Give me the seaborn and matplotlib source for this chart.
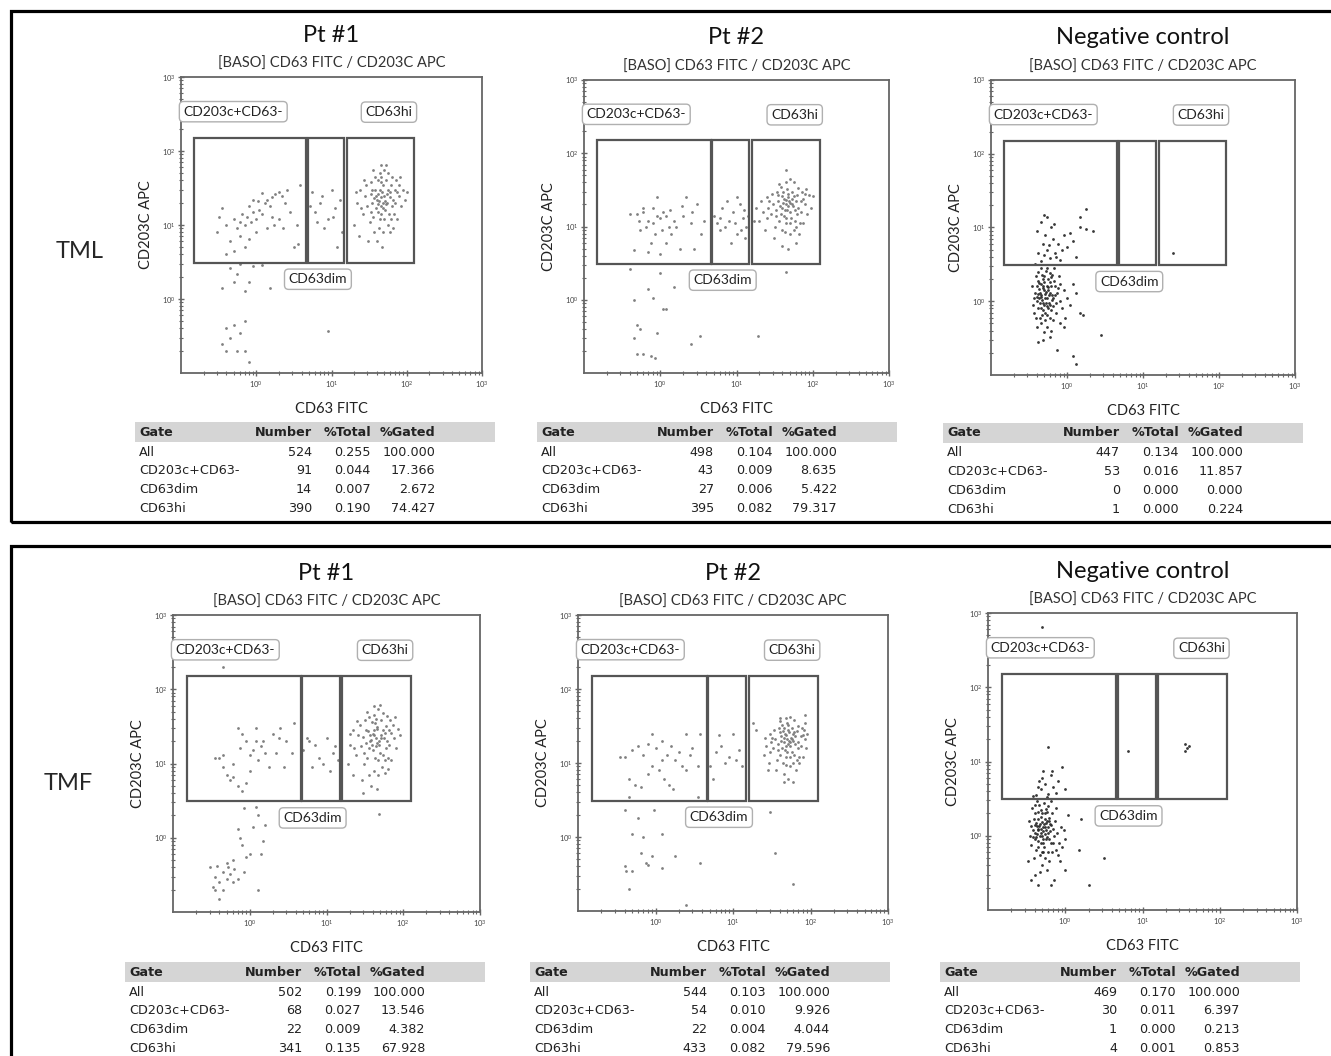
import matplotlib
matplotlib.use("Agg")
import matplotlib.pyplot as plt
import seaborn as sns
import pandas as pd
from matplotlib.patches import Rectangle
from matplotlib.ticker import FixedLocator, LogLocator, LogFormatterMathtext, NullFormatter

# ---------------- DATA ----------------
row_labels = ["TML", "TMF"]
col_titles = ["Pt #1", "Pt #2", "Negative control"]
subtitle = "[BASO] CD63 FITC / CD203C APC"
x_label = "CD63 FITC"
y_label = "CD203C APC"
gate_names = ["All", "CD203c+CD63-", "CD63dim", "CD63hi"]
table_header = ["Gate", "Number", "%Total", "%Gated"]

# gate definitions (CD63 FITC ranges, CD203C APC range)
gate_x_ranges = [(0.15, 4.6), (4.8, 14.8), (16.0, 125.0)]
gate_y_range = (3.1, 150.0)

# gate statistics per panel
tml_pt1_number = [524, 91, 14, 390]
tml_pt1_total = [0.255, 0.044, 0.007, 0.190]
tml_pt1_gated = [100.000, 17.366, 2.672, 74.427]
tml_pt2_number = [498, 43, 27, 395]
tml_pt2_total = [0.104, 0.009, 0.006, 0.082]
tml_pt2_gated = [100.000, 8.635, 5.422, 79.317]
tml_neg_number = [447, 53, 0, 1]
tml_neg_total = [0.134, 0.016, 0.000, 0.000]
tml_neg_gated = [100.000, 11.857, 0.000, 0.224]
tmf_pt1_number = [502, 68, 22, 341]
tmf_pt1_total = [0.199, 0.027, 0.009, 0.135]
tmf_pt1_gated = [100.000, 13.546, 4.382, 67.928]
tmf_pt2_number = [544, 54, 22, 433]
tmf_pt2_total = [0.103, 0.010, 0.004, 0.082]
tmf_pt2_gated = [100.000, 9.926, 4.044, 79.596]
tmf_neg_number = [469, 30, 1, 4]
tmf_neg_total = [0.170, 0.011, 0.000, 0.001]
tmf_neg_gated = [100.000, 6.397, 0.213, 0.853]

# events (CD63 FITC, CD203C APC)
tml_pt1_events = [
    (40,22),(45,18),(50,25),(38,30),(55,20),(42,15),(48,35),(35,20),(60,28),(44,12),(52,16),(47,28),(39,17),(58,14),
    (65,22),(33,26),(36,13),(62,35),(46,45),(41,40),(53,40),(30,18),(28,25),(70,20),(75,28),(68,14),(56,10),(43,9),
    (37,8),(49,8),(32,11),(26,14),(24,30),(29,35),(34,38),(57,50),(50,55),(45,65),(72,40),(80,25),(85,18),(90,30),
    (95,22),(22,20),(20,10),(23,7),(31,6),(40,6),(47,5),(60,8),(66,9),(74,12),(78,35),(44,30),(51,21),(46,24),(42,26),
    (54,26),(39,25),(48,20),(57,30),(35,30),(63,18),(41,19),(50,12),(44,50),(38,45),(27,40),(36,55),(53,65),(64,45),
    (82,45),(100,28),(21,28),(25,17),(33,15),(59,24),(61,12),(70,30),(45,38),(43,21),(49,17),(37,23),(53,19),(46,14),
    (0.3,8),(0.32,13),(0.4,10),(0.45,6),(0.5,12),(0.55,9),(0.6,7),(0.65,14),(0.7,10),(0.75,13),(0.8,6.5),(0.85,11),
    (0.9,15),(1.0,12),(1.1,16),(1.2,14),(1.3,20),(1.4,22),(1.5,18),(1.6,24),(1.8,26),(2.0,28),(2.2,25),(2.4,20),
    (2.6,30),(2.0,12),(1.7,10),(1.4,9),(1.0,8),(0.7,5),(0.5,4.5),(0.4,4),(2.8,15),(3.5,10),(3.8,35),(3.2,5),(3.6,5.5),
    (1.2,27),(0.9,22),(0.8,18),(0.6,11),(1.6,13),(2.3,9),(0.35,17),(1.05,21),
    (5.5,28),(6,15),(7,20),(8,9),(9,12),(10,30),(11,17),(12,5),(13,22),(6.5,11),(7.5,25),(14,8),(10.5,13),(5.2,18),
    (0.35,1.4),(0.5,1.7),(0.55,2.2),(0.6,3),(0.7,1.3),(0.8,1.7),(1.5,1.4),(0.45,2.6),(0.4,0.4),(0.5,0.45),(0.6,0.35),
    (0.7,0.5),(0.35,0.25),(0.4,0.2),(0.55,0.2),(0.7,0.2),(0.8,0.14),(0.45,0.3),(9,0.37),(0.9,2.8),(1.2,2.9),
]
tml_pt2_events = [
    (40,18),(45,20),(50,16),(35,22),(55,19),(42,14),(48,25),(38,15),(60,22),(44,11),(52,13),(47,28),(37,19),(58,12),
    (65,18),(33,17),(36,12),(62,27),(46,33),(41,30),(53,30),(30,20),(28,15),(70,16),(75,24),(68,11),(56,9),(43,8.5),
    (39,9),(50,8),(32,10),(26,18),(25,25),(29,28),(34,30),(57,40),(50,45),(45,60),(72,30),(80,20),(85,15),(90,27),
    (95,18),(22,16),(20,12),(24,9),(31,7),(40,5.5),(47,5),(60,6),(66,8),(74,11),(78,28),(44,23),(51,21),(46,17),
    (42,24),(54,24),(39,26),(48,19),(57,26),(35,27),(63,15),(41,21),(50,11),(44,40),(38,35),(27,22),(36,38),(53,20),
    (64,34),(82,33),(100,26),(21,22),(25,13),(33,14),(59,17),(61,10),(70,22),(45,13),(18,18),(17,12),(49,22),(43,17),
    (0.5,15),(0.6,16),(0.7,12),(0.8,18),(0.9,25),(1.0,13),(1.2,14),(1.3,10),(1.5,12),(2.0,14),(2.2,25),(3.0,20),
    (0.55,9),(0.65,10),(0.85,8),(0.75,6),(0.7,4.5),(1.0,4.2),(1.8,5),(2.8,5),(3.4,8),(0.45,4.8),(1.1,16),(1.6,10),
    (2.5,11),(0.9,14),(1.4,8),(0.6,18),(1.9,19),(1.2,6),(0.8,11),(1.05,9),(2.6,16),(3.8,12),(0.4,15),(0.52,12),
    (1.35,17),
    (5,14),(6,9),(7,10),(8,12),(9,16),(10,8),(11,20),(12,13),(13,7),(6.5,18),(8.5,6),(14,14),(5.5,11),(7.5,22),
    (9.5,11),(11.5,9),(12.5,17),(6,13),(10,25),(13.5,10),
    (0.4,2.6),(0.45,1.0),(0.5,0.45),(0.55,0.4),(0.45,0.3),(0.5,0.18),(0.6,0.18),(0.7,1.4),(0.8,1.05),(0.9,0.35),
    (0.75,0.17),(0.85,0.16),(1.1,0.75),(1.2,0.75),(1.5,1.5),(2.5,0.25),(3.3,0.32),(1.0,2.3),(19,0.32),(45,2.4),
]
tml_neg_events = [
    (0.4,1.0),(0.45,1.2),(0.5,0.9),(0.55,1.1),(0.6,1.3),(0.42,0.8),(0.48,1.5),(0.52,0.7),(0.58,0.95),(0.62,1.6),
    (0.38,1.3),(0.44,0.6),(0.5,1.8),(0.56,2.0),(0.65,0.85),(0.7,1.2),(0.47,2.3),(0.53,2.6),(0.41,1.9),(0.36,0.9),
    (0.6,0.6),(0.67,1.9),(0.72,0.7),(0.46,0.5),(0.55,0.45),(0.4,0.45),(0.5,0.38),(0.62,0.4),(0.75,1.5),(0.8,1.0),
    (0.85,0.8),(0.9,1.4),(0.78,2.2),(0.68,2.8),(0.45,2.8),(0.39,2.2),(0.35,1.6),(0.57,1.4),(0.43,1.1),(0.51,1.25),
    (0.63,1.05),(0.49,0.75),(0.54,1.6),(0.59,2.4),(0.46,1.7),(0.44,0.95),(0.52,0.55),(0.66,0.55),(0.71,0.95),
    (0.37,0.7),(0.95,0.6),(1.0,1.1),(1.1,0.9),(1.2,1.7),(1.5,0.7),(1.3,1.3),(0.8,0.5),(0.9,0.45),(0.48,0.3),
    (0.42,0.28),(0.6,0.33),(0.74,0.22),(1.2,0.18),(1.3,0.14),(2.8,0.35),(1.6,0.65),(0.47,1.05),(0.53,1.35),
    (0.41,1.25),(0.57,0.8),(0.64,1.2),(0.49,2.0),(0.43,1.45),(0.55,0.65),(0.61,2.1),(0.39,0.6),
    (0.46,1.15),(0.5,1.4),(0.54,0.85),(0.44,1.3),(0.58,1.2),(0.48,0.95),(0.52,1.1),(0.4,1.6),(0.61,0.75),
    (0.45,0.8),(0.56,1.55),(0.42,2.5),(0.5,2.2),(0.64,2.3),(0.7,1.6),(0.37,1.1),(0.47,0.65),(0.53,0.95),
    (0.59,1.8),(0.43,1.75),(0.66,1.1),(0.55,2.8),(0.4,1.15),(0.49,1.6),(0.6,0.9),(0.73,1.3),(0.82,1.7),
    (0.45,3.5),(0.5,4.2),(0.55,5),(0.6,3.8),(0.48,6),(0.65,7),(0.7,4.5),(0.42,4.5),(0.52,8),(0.58,5.8),(0.75,6),
    (0.8,3.6),(0.62,10),(0.45,12),(0.55,14),(0.68,11),(0.9,8),(1.0,5.5),(1.1,8.5),(1.5,10),(1.8,9.5),(2.2,9),
    (1.5,14),(1.8,18),(1.2,6.5),(0.4,9),(0.5,15),(0.72,4),(0.38,3.2),(0.85,5),(1.3,4),
    (25,4.5),
]
tmf_pt1_events = [
    (38,21),(42,24),(48,18),(35,27),(52,22),(40,15),(45,31),(33,19),(57,26),(43,12),(50,14),(46,29),(36,16),(55,13),
    (62,20),(30,23),(34,12),(60,32),(44,40),(39,36),(51,38),(28,17),(26,24),(66,18),(70,26),(64,12),(53,9),(41,8),
    (36,7),(47,7),(31,10),(24,13),(22,28),(27,33),(32,38),(54,48),(47,55),(42,60),(68,38),(76,22),(80,16),(86,29),
    (20,18),(19,10),(22,7),(29,6),(38,5),(45,4.5),(57,7.5),(63,8.5),(70,11),(74,33),(41,28),(49,20),(44,22),(40,25),
    (51,24),(37,24),(46,19),(54,28),(33,28),(60,16),(39,18),(47,11),(42,45),(36,42),(25,37),(34,50),(50,62),(61,44),
    (78,42),(90,24),(20,25),(23,16),(31,14),(56,22),(58,11),(66,28),(43,35),(30,4),(48,2.1),(44,17),(37,20),
    (0.35,12),(0.4,12),(0.45,9),(0.5,7),(0.55,6),(0.6,6.5),(0.7,5),(0.8,4.2),(0.9,5.5),(1.0,13),(1.1,15),(1.2,20),
    (0.9,20),(0.8,25),(0.7,30),(1.5,20),(2.0,25),(2.5,30),(3.0,20),(3.5,14),(2.2,14),(1.6,14),(1.3,11),(1.8,9),
    (0.6,10),(0.45,13),(1.0,8),(2.8,9),(3.8,35),(1.2,30),(0.75,16),(1.4,17),(2.4,22),
    (5,15),(6,20),(7,18),(8,12),(9,10),(10,22),(12,14),(6.5,9),(11,8),(13,17),(5.5,22),(14,11),
    (0.85,2.5),(1.2,2.6),(1.3,2.0),(1.1,1.4),(0.7,1.3),(0.75,1.0),(0.8,0.8),(0.9,0.55),(1.0,0.6),(0.6,0.5),
    (0.5,0.45),(0.45,0.35),(0.35,0.3),(0.3,0.4),(0.4,0.25),(0.5,0.28),(0.55,0.32),(0.45,0.2),(0.35,0.2),(0.6,0.25),
    (0.7,0.28),(0.85,0.35),(1.3,0.2),(0.4,0.15),(0.33,0.22),(0.38,0.42),(0.52,0.4),(0.62,0.38),(1.4,0.6),(1.6,1.5),
    (1.5,0.9),(0.45,200),
]
tmf_pt2_events = [
    (46,19),(50,21),(55,17),(42,23),(60,20),(47,15),(53,26),(43,16),(64,23),(49,12),(57,14),(52,28),(42,20),(62,13),
    (70,19),(38,18),(41,13),(67,27),(51,33),(46,30),(58,30),(35,21),(33,16),(75,17),(80,24),(72,12),(60,10),(48,9.5),
    (44,10),(55,9),(37,11),(31,19),(30,25),(34,28),(39,30),(62,38),(55,42),(50,35),(77,30),(85,21),(88,16),(40,37),
    (27,17),(25,13),(29,10),(36,8),(45,7),(52,6),(65,8),(71,10),(79,12),(83,28),(49,24),(56,22),(51,18),(47,25),
    (59,25),(44,27),(53,20),(62,26),(40,26),(68,16),(46,22),(55,12),(48,40),(43,33),(32,22),(41,40),(58,21),(69,32),
    (86,35),(90,25),(26,22),(30,14),(38,15),(64,18),(66,11),(75,23),(50,14),(45,5.5),(20,28),(18,35),(28,8),(60,5.5),
    (85,45),(48,17),(54,19),
    (0.35,12),(0.4,12),(0.5,15),(0.6,17),(0.7,13),(0.8,18),(0.9,25),(1.0,16),(1.2,20),(1.4,13),(1.6,17),(1.8,11),
    (2.0,14),(2.5,25),(3.0,16),(3.8,25),(0.45,6),(0.55,5),(0.65,4.8),(0.8,7),(1.1,8),(1.3,6),(1.5,5),(1.7,4.5),
    (2.2,9),(2.5,8),(0.9,9),(1.2,11),(2.8,13),(3.5,9),
    (5,9),(5.5,6),(6,14),(7,17),(8,10),(9,12),(10,25),(12,15),(13,9),(6.5,24),(11,11),
    (0.4,2.3),(0.45,3.5),(0.5,1.1),(0.6,1.8),(0.7,1.0),(0.65,0.6),(0.75,0.45),(0.8,0.42),(0.9,0.55),(1.2,1.1),
    (1.8,0.55),(1.2,0.38),(0.4,0.4),(0.42,0.35),(0.5,0.35),(0.45,0.2),(2.5,0.12),(3.8,0.45),(35,0.6),(60,0.23),
    (30,2.2),(0.95,2.3),(3.5,3.5),
]
tmf_neg_events = [
    (0.45,1.2),(0.5,1.0),(0.42,1.5),(0.55,1.3),(0.6,1.1),(0.4,0.9),(0.48,1.8),(0.52,0.8),(0.58,1.6),(0.38,1.2),
    (0.44,0.7),(0.5,2.0),(0.56,2.3),(0.62,0.9),(0.66,1.4),(0.46,2.6),(0.53,2.8),(0.4,2.0),(0.35,1.0),(0.6,0.6),
    (0.68,2.0),(0.7,0.8),(0.47,0.55),(0.54,0.5),(0.39,0.5),(0.5,0.4),(0.62,0.45),(0.74,1.6),(0.78,1.1),(0.82,0.8),
    (0.88,1.3),(0.77,2.4),(0.65,2.9),(0.43,2.9),(0.37,2.4),(0.34,1.6),(0.57,1.5),(0.43,1.05),(0.51,1.3),(0.63,1.15),
    (0.48,0.8),(0.55,1.7),(0.6,2.5),(0.45,1.7),(0.42,0.95),(0.52,0.6),(0.67,0.6),(0.72,1.0),(0.36,0.75),(0.92,0.7),
    (0.95,1.2),(1.0,0.9),(0.8,0.55),(0.85,0.45),(0.47,0.33),(0.41,0.3),(0.58,0.35),(0.72,0.25),(0.36,0.25),
    (0.45,0.22),(0.65,0.22),(1.0,0.35),(1.1,1.9),(0.33,0.45),(0.4,1.4),(0.49,1.1),(0.58,0.95),(0.53,1.45),
    (0.46,1.35),(0.61,1.75),(0.44,1.25),(0.51,0.9),(0.57,1.2),(0.39,1.7),(0.64,1.45),(0.48,2.2),
    (0.47,1.0),(0.52,1.15),(0.43,1.35),(0.56,0.9),(0.5,1.55),(0.41,1.1),(0.59,1.3),(0.45,0.85),(0.54,2.0),
    (0.38,0.95),(0.62,1.6),(0.49,1.25),(0.55,1.05),(0.44,2.1),(0.7,1.25),(0.36,1.35),(0.47,1.45),(0.53,0.7),
    (0.66,0.8),(0.42,0.65),(0.58,2.1),(0.5,0.6),(0.75,0.65),(0.4,2.6),
    (0.42,3.5),(0.48,4.2),(0.55,5),(0.6,3.7),(0.5,6),(0.65,6.5),(0.7,4.5),(0.44,4.5),(0.58,3.3),(0.75,3.8),
    (0.8,5.5),(0.9,8.5),(0.6,15.5),(0.52,7.5),(0.38,3.4),(1.0,4.2),(0.68,7.5),(0.46,5.5),
    (6.5,14),(35,17),(38,15),(36,14),(40,16),
    (3.2,0.5),(2.0,0.22),(1.5,0.65),(1.6,1.7),(0.5,650),
]

# ---------------- LAYOUT HELPERS ----------------
W, H = 1331, 1056
DPI = 100


def fx(px):
    return px / W


def fy(py):
    return 1 - py / H


rows = []
panels = [
    ("TML", "Pt #1", tml_pt1_events, tml_pt1_number, tml_pt1_total, tml_pt1_gated),
    ("TML", "Pt #2", tml_pt2_events, tml_pt2_number, tml_pt2_total, tml_pt2_gated),
    ("TML", "Negative control", tml_neg_events, tml_neg_number, tml_neg_total, tml_neg_gated),
    ("TMF", "Pt #1", tmf_pt1_events, tmf_pt1_number, tmf_pt1_total, tmf_pt1_gated),
    ("TMF", "Pt #2", tmf_pt2_events, tmf_pt2_number, tmf_pt2_total, tmf_pt2_gated),
    ("TMF", "Negative control", tmf_neg_events, tmf_neg_number, tmf_neg_total, tmf_neg_gated),
]
for grp, title, ev, *_ in panels:
    for (xv, yv) in ev:
        rows.append({"group": grp, "sample": title, "CD63 FITC": xv, "CD203C APC": yv})
events_df = pd.DataFrame(rows)

# axes boxes in pixels (left, top, right, bottom)
axes_px = [
    (181, 77, 482, 373), (584, 80, 889, 373), (991, 80, 1295, 375),
    (173, 615, 480, 912), (578, 615, 888, 911), (988, 613, 1297, 910),
]
# table band left edge / band top in pixels
table_px = [
    (135, 422), (537, 422), (943, 423),
    (125, 962), (530, 962), (940, 962),
]

sns.set_style("white")
plt.rcParams['font.family'] = ['Lato', 'DejaVu Sans']

fig = plt.figure(figsize=(W / DPI, H / DPI), dpi=DPI)

# outer frames
fig.add_artist(Rectangle((fx(11), fy(522)), fx(1345 - 11), (522 - 11) / H, transform=fig.transFigure,
                         fill=False, ec="black", lw=2.3, clip_on=False))
fig.add_artist(Rectangle((fx(11), fy(1070)), fx(1345 - 11), (1070 - 546) / H, transform=fig.transFigure,
                         fill=False, ec="black", lw=2.3, clip_on=False))

fig.text(fx(80), fy(252), row_labels[0], fontsize=17, ha="center", va="center")
fig.text(fx(68), fy(783), row_labels[1], fontsize=17, ha="center", va="center")

for i, (grp, title, ev, num, tot, gated) in enumerate(panels):
    l, t, r, b = axes_px[i]
    ax = fig.add_axes([fx(l), fy(b), (r - l) / W, (b - t) / H])
    sub = events_df[(events_df["group"] == grp) & (events_df["sample"] == title)]
    is_neg = title == "Negative control"
    sns.scatterplot(data=sub, x="CD63 FITC", y="CD203C APC", ax=ax, s=4,
                    color="#222222" if is_neg else "#808080", linewidth=0, alpha=0.9 if is_neg else 1.0,
                    legend=False)
    ax.set_xscale("log")
    ax.set_yscale("log")
    ax.set_xlim(0.1, 1000)
    ax.set_ylim(0.1, 1000)
    for sp in ax.spines.values():
        sp.set_color("#666666")
        sp.set_linewidth(1.3)
    ax.xaxis.set_major_locator(FixedLocator([1, 10, 100, 1000]))
    ax.yaxis.set_major_locator(FixedLocator([1, 10, 100, 1000]))
    ax.xaxis.set_major_formatter(LogFormatterMathtext())
    ax.yaxis.set_major_formatter(LogFormatterMathtext())
    ax.xaxis.set_minor_locator(LogLocator(base=10, subs=range(2, 10), numticks=20))
    ax.yaxis.set_minor_locator(LogLocator(base=10, subs=range(2, 10), numticks=20))
    ax.xaxis.set_minor_formatter(NullFormatter())
    ax.yaxis.set_minor_formatter(NullFormatter())
    ax.tick_params(which="both", direction="inout", color="#666666", labelsize=5.5,
                   labelcolor="#444444", bottom=True, left=True, top=False, right=False, pad=1.5)
    ax.tick_params(which="major", length=5, width=1)
    ax.tick_params(which="minor", length=3, width=0.8)

    # gates
    y0, y1 = gate_y_range
    for (x0, x1) in gate_x_ranges:
        ax.add_patch(Rectangle((x0, y0), x1 - x0, y1 - y0, fill=False, ec="#555555", lw=1.6, zorder=3))
    bbox = dict(boxstyle="round,pad=0.3,rounding_size=0.3", fc="white", ec="#b0b0b0", lw=1.0)
    ax.text(0.108, 340, gate_names[1], fontsize=10, ha="left", va="center", bbox=bbox, zorder=4, color="#222")
    ax.text(58, 335, gate_names[3], fontsize=10, ha="center", va="center", bbox=bbox, zorder=4, color="#222")
    ax.text(6.6, 1.85, gate_names[2], fontsize=10, ha="center", va="center", bbox=bbox, zorder=4, color="#222")

    ax.set_xlabel(x_label, fontsize=10.5, color="#222")
    ax.set_ylabel(y_label, fontsize=10.5, color="#222")
    hpx = b - t
    wpx = r - l
    ax.xaxis.set_label_coords(0.5, -29 / hpx)
    ax.yaxis.set_label_coords(-28 / wpx, 0.5)
    ax.text(0.5, 1 + 13 / hpx, subtitle, transform=ax.transAxes, fontsize=10.5, ha="center", va="center",
            color="#333")
    ax.text(0.5, 1 + 42 / hpx, title, transform=ax.transAxes, fontsize=17, ha="center", va="center",
            color="#111")

    # statistics table
    bl, bt = table_px[i]
    fig.add_artist(Rectangle((fx(bl), fy(bt + 20)), 360 / W, 20 / H, transform=fig.transFigure,
                             fc="#d5d5d5", ec="none"))
    tfont = dict(fontsize=9.2, family="DejaVu Sans", color="#222", va="center")
    hy = fy(bt + 10)
    fig.text(fx(bl + 4), hy, table_header[0], ha="left", fontweight="bold", **tfont)
    fig.text(fx(bl + 177), hy, table_header[1], ha="right", fontweight="bold", **tfont)
    fig.text(fx(bl + 236), hy, table_header[2], ha="right", fontweight="bold", **tfont)
    fig.text(fx(bl + 300), hy, table_header[3], ha="right", fontweight="bold", **tfont)
    for k, gname in enumerate(gate_names):
        ry = fy(bt + 30 + 18.8 * k)
        fig.text(fx(bl + 4), ry, gname, ha="left", **tfont)
        fig.text(fx(bl + 177), ry, f"{num[k]}", ha="right", **tfont)
        fig.text(fx(bl + 236), ry, f"{tot[k]:.3f}", ha="right", **tfont)
        fig.text(fx(bl + 300), ry, f"{gated[k]:.3f}", ha="right", **tfont)

fig.savefig("out.png", dpi=DPI)
